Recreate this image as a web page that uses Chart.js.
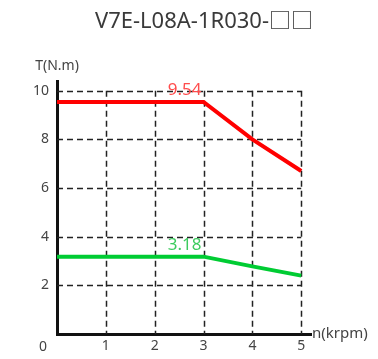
<!DOCTYPE html>
<html>
<head>
<meta charset="utf-8">
<script src="https://cdn.jsdelivr.net/npm/chart.js@4/dist/chart.umd.min.js"></script>
<style>
html,body{margin:0;padding:0;background:#fff;}
canvas{display:block;}
</style>
</head>
<body>
<canvas id="c" width="378" height="359"></canvas>
<script>
// ---- data ----
const titleText = 'V7E-L08A-1R030-□□';
const speeds = [0, 3, 4, 5];                 // n (krpm)
const peakTorque = [9.54, 9.54, 8.0, 6.7];   // T (N.m)
const ratedTorque = [3.18, 3.18, 2.78, 2.4]; // T (N.m)
const xTicks = [1, 2, 3, 4, 5];
const yTicks = [2, 4, 6, 8, 10];
const xLabel = 'n(krpm)';
const yLabel = 'T(N.m)';

const FONT = "'Noto Sans','Noto Sans CJK JP',sans-serif";
const TXT = '#444';

function pts(ys){ return speeds.map((x,i)=>({x:x, y:ys[i]})); }

const decor = {
  id: 'decor',
  beforeDatasetsDraw(chart){
    const {ctx, scales:{x, y}} = chart;
    const x0 = x.getPixelForValue(0), x5 = x.getPixelForValue(xTicks[xTicks.length-1]);
    const y0 = y.getPixelForValue(0), y10 = y.getPixelForValue(yTicks[yTicks.length-1]);
    ctx.save();
    ctx.strokeStyle = '#222';
    ctx.lineWidth = 1.5;
    ctx.setLineDash([6,4]);
    yTicks.forEach(v=>{
      const py = Math.round(y.getPixelForValue(v))+0.5;
      ctx.beginPath(); ctx.moveTo(x0, py); ctx.lineTo(x5, py); ctx.stroke();
    });
    xTicks.forEach(v=>{
      const px = Math.round(x.getPixelForValue(v))+0.5;
      ctx.beginPath(); ctx.moveTo(px, y10); ctx.lineTo(px, y0); ctx.stroke();
    });
    ctx.restore();
  },
  afterDatasetsDraw(chart){
    const {ctx, scales:{x, y}} = chart;
    ctx.save();
    // value labels at the corner point
    chart.data.datasets.forEach(ds=>{
      const p = ds.data[1];
      ctx.font = '17px ' + FONT;
      ctx.fillStyle = ds.labelColor;
      ctx.textAlign = 'right';
      ctx.textBaseline = 'alphabetic';
      ctx.fillText(p.y.toFixed(2), x.getPixelForValue(p.x) - 2, y.getPixelForValue(p.y) - 7);
    });
    // title
    ctx.fillStyle = '#3a3a3a';
    ctx.font = '22px ' + FONT;
    ctx.textAlign = 'center';
    ctx.textBaseline = 'middle';
    ctx.fillText(titleText, 204, 22);
    // axis titles
    ctx.fillStyle = TXT;
    ctx.font = '14px ' + FONT;
    ctx.textAlign = 'center';
    ctx.fillText(yLabel, x.getPixelForValue(0), chart.chartArea.top - 15);
    ctx.font = '15px ' + FONT;
    ctx.textAlign = 'left';
    ctx.fillText(xLabel, chart.chartArea.right + 1, y.getPixelForValue(0));
    // shared origin label
    ctx.font = '14px ' + FONT;
    ctx.textAlign = 'center';
    ctx.fillText('0', x.getPixelForValue(0) - 14, y.getPixelForValue(0) + 13);
    ctx.restore();
  }
};

new Chart(document.getElementById('c'), {
  type: 'line',
  data: {
    datasets: [
      {data: pts(peakTorque), borderColor: '#FF0000', borderWidth: 4, pointRadius: 0, tension: 0, labelColor: '#FF4D4D'},
      {data: pts(ratedTorque), borderColor: '#00CC33', borderWidth: 4, pointRadius: 0, tension: 0, labelColor: '#3CCB5E'}
    ]
  },
  options: {
    responsive: false,
    animation: false,
    layout: {padding: {top: 81, right: 67, left: 0, bottom: 0}},
    plugins: {legend: {display: false}, title: {display: false}, tooltip: {enabled: false}},
    scales: {
      x: {
        type: 'linear', min: 0, max: 5.2,
        afterBuildTicks(s){ s.ticks = xTicks.map(v=>({value:v})); },
        afterFit(s){ s.height = 25; },
        grid: {display: false, drawTicks: false},
        border: {display: true, color: '#111', width: 3},
        ticks: {color: TXT, font: {family: FONT, size: 14}, padding: 4, maxRotation: 0}
      },
      y: {
        type: 'linear', min: 0, max: 10.4,
        afterBuildTicks(s){ s.ticks = yTicks.map(v=>({value:v})); },
        afterFit(s){ s.width = 57; },
        grid: {display: false, drawTicks: false},
        border: {display: true, color: '#111', width: 3},
        ticks: {color: TXT, font: {family: FONT, size: 14}, padding: 8}
      }
    }
  },
  plugins: [decor]
});
</script>
</body>
</html>
